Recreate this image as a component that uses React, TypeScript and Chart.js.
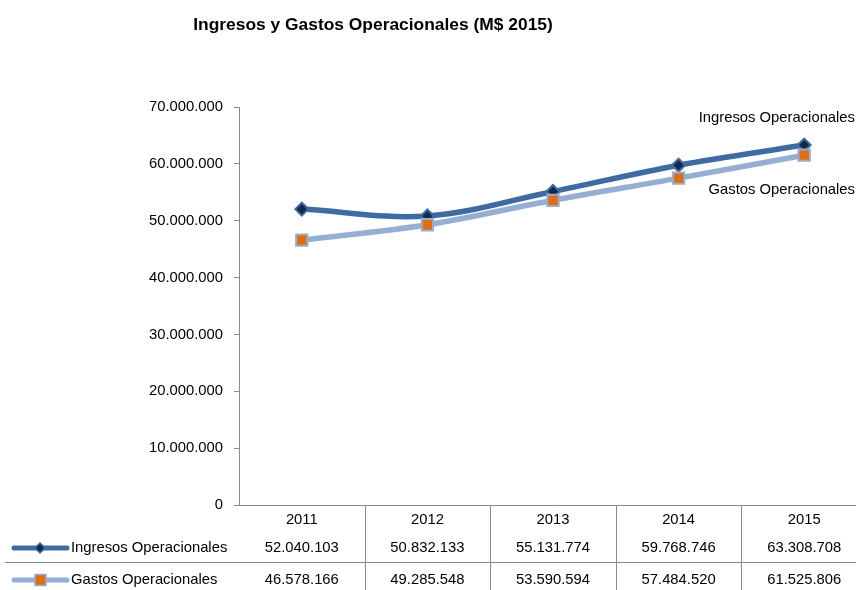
import React, { useEffect, useRef } from "react";
import { Chart, registerables } from "chart.js";

Chart.register(...registerables);

const years = ["2011", "2012", "2013", "2014", "2015"];
const ingresos = [52040103, 50832133, 55131774, 59768746, 63308708];
const gastos = [46578166, 49285548, 53590594, 57484520, 61525806];
const seriesNames = ["Ingresos Operacionales", "Gastos Operacionales"];
const titleText = "Ingresos y Gastos Operacionales (M$ 2015)";
const yMax = 70000000;
const yStep = 10000000;

const FONT = "'Liberation Sans', Arial, sans-serif";
const FS = 14.8;
const INGRESOS_LINE = "#3D6BA6";
const INGRESOS_MARK = "#142A4C";
const GASTOS_LINE = "#93AFD8";
const GASTOS_MARK = "#E46C0A";
const GRAY = "#8A8A8A";

const fmt = (n: number) => String(Math.round(n)).replace(/\B(?=(\d{3})+(?!\d))/g, ".");

const tablePlugin = {
  id: "tablePlugin",
  afterDraw(chart: any) {
    const ctx = chart.ctx;
    const xs = chart.scales.x;
    const area = chart.chartArea;
    const H = chart.height;
    ctx.save();
    // title
    ctx.fillStyle = "#000";
    ctx.font = `bold 17.4px ${FONT}`;
    ctx.textAlign = "center";
    ctx.textBaseline = "middle";
    ctx.fillText(titleText, 373, 25);

    // vertical dividers
    ctx.strokeStyle = GRAY;
    ctx.lineWidth = 1;
    for (let i = 0; i < years.length - 1; i++) {
      const xb = Math.round((xs.getPixelForValue(i) + xs.getPixelForValue(i + 1)) / 2) + 0.5;
      ctx.beginPath();
      ctx.moveTo(xb, area.bottom);
      ctx.lineTo(xb, H);
      ctx.stroke();
    }
    const xr = Math.round(area.right) + 0.5;
    ctx.beginPath();
    ctx.moveTo(xr, area.bottom);
    ctx.lineTo(xr, H);
    ctx.stroke();
    // horizontal divider between rows
    ctx.beginPath();
    ctx.moveTo(5, 562.5);
    ctx.lineTo(chart.width, 562.5);
    ctx.stroke();

    const rows = [
      { name: seriesNames[0], data: ingresos, y: 548, line: INGRESOS_LINE, mark: INGRESOS_MARK, shape: "diamond" },
      { name: seriesNames[1], data: gastos, y: 580, line: GASTOS_LINE, mark: GASTOS_MARK, shape: "square" },
    ];
    ctx.font = `${FS}px ${FONT}`;
    for (const r of rows) {
      ctx.strokeStyle = r.line;
      ctx.lineWidth = 5;
      ctx.lineCap = "round";
      ctx.beginPath();
      ctx.moveTo(14, r.y);
      ctx.lineTo(67, r.y);
      ctx.stroke();
      ctx.lineCap = "butt";
      ctx.fillStyle = r.mark;
      ctx.strokeStyle = r.line;
      ctx.lineWidth = 1.5;
      if (r.shape === "diamond") {
        ctx.beginPath();
        ctx.moveTo(40, r.y - 5);
        ctx.lineTo(45, r.y);
        ctx.lineTo(40, r.y + 5);
        ctx.lineTo(35, r.y);
        ctx.closePath();
        ctx.fill();
        ctx.stroke();
      } else {
        ctx.beginPath();
        ctx.rect(35, r.y - 5.5, 11, 11);
        ctx.fill();
        ctx.stroke();
      }
      ctx.fillStyle = "#000";
      ctx.textAlign = "left";
      ctx.textBaseline = "middle";
      ctx.fillText(r.name, 71, r.y);
      ctx.textAlign = "center";
      r.data.forEach((v, i) => {
        ctx.fillText(fmt(v), xs.getPixelForValue(i), r.y);
      });
    }

    ctx.textAlign = "right";
    ctx.fillText(seriesNames[0], 855, 118);
    ctx.fillText(seriesNames[1], 855, 190);
    ctx.restore();
  },
};

export default function App() {
  const ref = useRef<HTMLCanvasElement>(null);
  useEffect(() => {
    if (!ref.current) return;
    const chart = new Chart(ref.current, {
      type: "line",
      data: {
        labels: years,
        datasets: [
          {
            label: seriesNames[0],
            data: ingresos,
            borderColor: INGRESOS_LINE,
            borderWidth: 5.5,
            tension: 0.35,
            pointStyle: "rectRot",
            pointRadius: 6.5,
            pointBackgroundColor: INGRESOS_MARK,
            pointBorderColor: INGRESOS_LINE,
            pointBorderWidth: 2,
            order: 2,
          },
          {
            label: seriesNames[1],
            data: gastos,
            borderColor: GASTOS_LINE,
            borderWidth: 5.5,
            tension: 0.35,
            pointStyle: "rect",
            pointRadius: 8,
            pointBackgroundColor: GASTOS_MARK,
            pointBorderColor: GASTOS_LINE,
            pointBorderWidth: 2,
            order: 1,
          },
        ],
      },
      options: {
        responsive: false,
        animation: false,
        layout: { padding: { top: 107, right: 13, left: 0, bottom: 0 } },
        plugins: { legend: { display: false }, tooltip: { enabled: false }, title: { display: false } },
        scales: {
          x: {
            type: "category",
            offset: true,
            grid: { display: false, drawTicks: false },
            border: { display: true, color: GRAY, width: 1 },
            ticks: { color: "#000", font: { family: FONT, size: FS }, padding: 6, maxRotation: 0 },
            afterFit: (s: any) => { s.height = 85; },
          },
          y: {
            min: 0,
            max: yMax,
            grid: { display: true, drawOnChartArea: false, drawTicks: true, tickLength: 5, color: GRAY },
            border: { display: true, color: GRAY, width: 1 },
            ticks: {
              stepSize: yStep,
              color: "#000",
              font: { family: FONT, size: FS },
              padding: 11,
              callback: (v: any) => fmt(Number(v)),
            },
            afterFit: (s: any) => { s.width = 239; },
          },
        },
      },
      plugins: [tablePlugin],
    } as any);
    return () => chart.destroy();
  }, []);
  return (
    <div style={{ position: "fixed", left: 0, top: 0, width: 856, height: 590, overflow: "hidden", background: "#fff" }}>
      <canvas ref={ref} width={880} height={590} style={{ display: "block" }} />
    </div>
  );
}
